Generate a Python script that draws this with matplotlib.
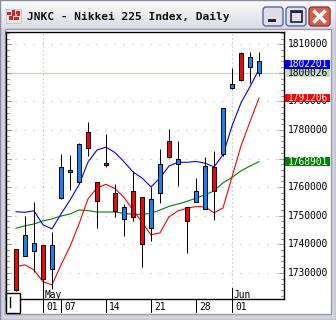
import numpy as np
import matplotlib
matplotlib.use("Agg")
import matplotlib.pyplot as plt
from matplotlib.patches import Rectangle, FancyBboxPatch
from matplotlib.transforms import blended_transform_factory

# daily candles, 25 Apr - 06 Jun (price x100)
opens = [1724000, 1743300, 1740400, 1727800, 1739800, 1767000, 1766000, 1775100,
         1773600, 1755300, 1767800, 1751700, 1753000, 1749700, 1740000, 1755800,
         1768000, 1770400, 1769800, 1748300, 1758800, 1767300, 1758800, 1787600,
         1796000, 1797500, 1805500, 1804000]
highs = [1738400, 1750000, 1754700, 1739900, 1744400, 1771600, 1771300, 1775300,
         1782900, 1761800, 1778500, 1761000, 1754100, 1765700, 1756600, 1760000,
         1773400, 1780400, 1776200, 1753100, 1763100, 1770600, 1772800, 1787800,
         1801600, 1807200, 1807200, 1807200]
lows = [1723700, 1735900, 1730400, 1724700, 1724400, 1755800, 1759000, 1761500,
        1770900, 1745600, 1767200, 1749600, 1742900, 1748300, 1732200, 1741300,
        1754600, 1770200, 1760500, 1737100, 1754700, 1752200, 1748400, 1770900,
        1794300, 1797300, 1796400, 1799000]
closes = [1738400, 1735900, 1737800, 1739800, 1731300, 1756300, 1765200, 1761700,
          1779200, 1761700, 1768400, 1757900, 1748800, 1758600, 1756500, 1745600,
          1757900, 1776300, 1768000, 1753000, 1754800, 1752500, 1766900, 1771600,
          1794800, 1806900, 1802000, 1800026]

# moving averages
ma_blue = [1751400, 1751200, 1751700, 1746800, 1745400, 1750600, 1755500, 1760800,
           1768800, 1773000, 1774000, 1772100, 1768900, 1765300, 1763200, 1760100,
           1763200, 1767400, 1768700, 1768700, 1769000, 1768400, 1767100, 1771300,
           1781400, 1789500, 1795200, 1801200]
ma_red = [1732200, 1732800, 1731000, 1726900, 1725800, 1732800, 1739200, 1747100,
          1755900, 1759700, 1761000, 1759500, 1756400, 1752000, 1747800, 1743300,
          1744000, 1749600, 1751700, 1752600, 1753200, 1753100, 1751000, 1752700,
          1763600, 1774400, 1782900, 1791206]
ma_green = [1745600, 1746500, 1747100, 1748200, 1748900, 1749900, 1750600, 1752000,
            1751800, 1751300, 1751300, 1751300, 1750800, 1750500, 1750500, 1750800,
            1752000, 1753300, 1754100, 1755000, 1756200, 1757300, 1758700, 1761500,
            1763400, 1765700, 1767400, 1768901]

# last-value tags: close, red MA, green MA, blue MA
tag_values = [1800026, 1791206, 1768901, 1802201]
tag_colors = [("#c4dcc4", "black"), ("#ff0000", "white"), ("#008000", "white"),
              ("#0000ff", "white")]

day_ticks = [3, 5, 10, 15, 20, 24]
day_labels = ["01", "07", "14", "21", "28", "01"]
month_ticks = [3, 24]
month_labels = ["May", "Jun"]
price_ticks = list(range(1730000, 1810001, 10000))

title = "JNKC - Nikkei 225 Index, Daily"

W, H = 336, 320
MONO = "DejaVu Sans Mono"
fig = plt.figure(figsize=(W / 100, H / 100), dpi=100)
fig.patch.set_facecolor("#d2d2dc")

# window chrome, pixel coords with origin top-left
bg = fig.add_axes([0, 0, 1, 1])
bg.set_xlim(0, W)
bg.set_ylim(H, 0)
bg.axis("off")
grad = np.linspace(0, 1, 28).reshape(-1, 1)
bg.imshow(grad, extent=(0, W, 28, 0), cmap=matplotlib.colors.LinearSegmentedColormap.from_list(
    "tb", ["#fbfbfd", "#dcdce6"]), aspect="auto", zorder=1)
bg.add_patch(Rectangle((0, 0), W - 0.5, H - 0.5, fill=False, ec="#8a8aa2", lw=1, zorder=2))
bg.add_patch(Rectangle((4.5, 28.5), 326, 285, fc="white", ec="#9a9ab0", lw=1, zorder=2))
# icon
bg.add_patch(Rectangle((6, 9), 15, 14, fc="#e8e8e8", ec="#c8c8c8", lw=0.7, zorder=3))
for (ix, iy, iw, ih) in [(7, 12, 4, 3), (12, 10, 3, 6), (16, 11, 4, 3), (9, 16, 4, 4),
                         (14, 17, 5, 3), (17, 14, 3, 2)]:
    bg.add_patch(Rectangle((ix, iy), iw, ih, fc="#e02020", lw=0, zorder=4))
bg.text(27, 16.5, title, family=MONO, weight="bold", fontsize=8.1,
        va="center", ha="left", color="#101010", zorder=4)
# buttons
for bx in (263, 286):
    bg.add_patch(FancyBboxPatch((bx, 7), 20, 19, boxstyle="round,pad=0,rounding_size=3",
                                fc="#dedee8", ec="#5c6894", lw=1, zorder=3))
bg.add_patch(Rectangle((268, 19), 8, 3, fc="#202040", lw=0, zorder=4))
bg.add_patch(Rectangle((291, 11), 11, 11, fill=False, ec="#202040", lw=1.2, zorder=4))
bg.add_patch(Rectangle((291, 11), 11, 2, fc="#202040", lw=0, zorder=4))
bg.add_patch(FancyBboxPatch((309, 7), 21, 19, boxstyle="round,pad=0,rounding_size=3",
                            fc="#dc5a48", ec="#8c3a34", lw=1, zorder=3))
bg.plot([313.5, 325.5], [10.5, 22.5], color="white", lw=2.6, solid_capstyle="butt", zorder=4)
bg.plot([313.5, 325.5], [22.5, 10.5], color="white", lw=2.6, solid_capstyle="butt", zorder=4)

# price chart
L, R, T, B = 6, 284, 32, 299
ax = fig.add_axes([L / W, (H - B) / H, (R - L) / W, (B - T) / H])
ax.set_facecolor("white")
step = 9.0
x0 = 16
ax.set_xlim(-(x0 - L) / step, (R - x0) / step)
ppx = 350.0  # price per pixel
ax.set_ylim(1810000 - (B - 44.3) * ppx, 1810000 + (44.3 - T) * ppx)
for s in ax.spines.values():
    s.set_linewidth(1)
    s.set_color("black")
ax.set_xticks([])
ax.set_yticks([])

px = 0.72
for p in price_ticks:
    ax.axhline(p, color="#a8a8a8", lw=px, ls=(0, (1, 8)), zorder=1)
for m in month_ticks:
    ax.axvline(m, color="#a8a8a8", lw=px, ls=(0, (1, 3)), zorder=1)
ax.axhline(closes[-1], color="#c4dcc4", lw=1, zorder=1)

# small scale ticks on both edges
ya = blended_transform_factory(ax.transAxes, ax.transData)
for p in range(1722000, 1814001, 2000):
    ln = 5 if p % 10000 == 0 else 3
    ax.plot([0, ln / (R - L)], [p, p], transform=ya, color="#a0a0a0", lw=px, zorder=1)
    ax.plot([1 - ln / (R - L), 1], [p, p], transform=ya, color="#a0a0a0", lw=px, zorder=1)

ma_lw = 0.8
ax.plot(range(len(ma_green)), ma_green, color="#008000", lw=ma_lw, zorder=2)
ax.plot(range(len(ma_red)), ma_red, color="#ff0000", lw=ma_lw, zorder=2)
ax.plot(range(len(ma_blue)), ma_blue, color="#0000ff", lw=ma_lw, zorder=2)

bw = 0.5
for i, (o, h, l, c) in enumerate(zip(opens, highs, lows, closes)):
    ax.vlines(i, l, h, color="black", lw=px, zorder=3)
    bot, top = min(o, c), max(o, c)
    if top - bot < 1.5 * ppx:
        bot, top = (o + c) / 2 - 0.75 * ppx, (o + c) / 2 + 0.75 * ppx
    col = "#ff0000" if c >= o else "#0a84ff"
    ax.add_patch(Rectangle((i - bw / 2, bot), bw, top - bot, fc=col, ec="black",
                           lw=px, zorder=4))

# price scale, tags cover the labels underneath
box_h = 8.5 * ppx
placed = []
for v in tag_values:
    y = v
    for q in placed:
        if abs(y - q) < box_h:
            y = q + box_h if y >= q else q - box_h
    placed.append(y)
for p in price_ticks:
    if any(abs(p - q) < 3.3 * ppx for q in placed):
        continue
    ax.text((288 - L) / (R - L), p, str(p), transform=ya, family=MONO, fontsize=6.9,
            va="center", ha="left", clip_on=False)
for k in (3, 0, 1, 2):
    fc, tc = tag_colors[k]
    y = placed[k]
    ax.add_patch(Rectangle(((285 - L) / (R - L), y - box_h / 2), 45 / (R - L), box_h,
                           transform=ya, fc=fc, lw=0, clip_on=False, zorder=5 + k % 3))
    ax.text((288 - L) / (R - L), y, str(tag_values[k]), transform=ya, family=MONO,
            fontsize=6.9, va="center", ha="left", color=tc, clip_on=False, zorder=5 + k % 3)

# time scale
xa = blended_transform_factory(ax.transData, ax.transAxes)
ht = B - T
for t, lab in zip(day_ticks, day_labels):
    top = (B - 288) / ht if t in month_ticks else 0
    ax.plot([t, t], [top, -(312 - B) / ht], transform=xa, color="black", lw=px,
            clip_on=False, zorder=5)
    ax.text(t + 3 / step, -(306.5 - B) / ht, lab, transform=xa, family=MONO, fontsize=6.9,
            va="center", ha="left", clip_on=False)
for t, lab in zip(month_ticks, month_labels):
    ax.text(t + 2 / step, (B - 294.5) / ht, lab, transform=xa, family=MONO, fontsize=6.9,
            va="center", ha="left", clip_on=False, zorder=6)

# scroll box bottom left
def fpx(x, y):
    return x / W, (H - y) / H

fig.patches.append(Rectangle(fpx(6, 313), 14 / W, 20.5 / H, transform=fig.transFigure,
                             fc="white", ec="black", lw=1, zorder=5))
fig.lines.append(plt.Line2D([9.5 / W, 9.5 / W], [(H - 296.5) / H, (H - 307) / H],
                            transform=fig.transFigure, color="black", lw=1, zorder=6))

fig.savefig("out.png", dpi=100)
